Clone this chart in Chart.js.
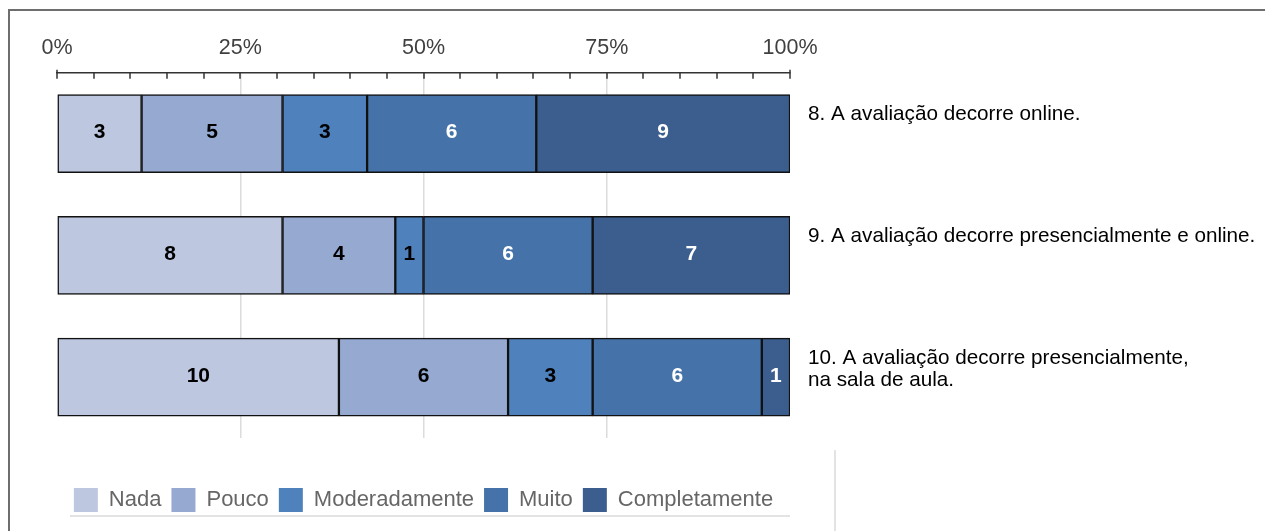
<!DOCTYPE html>
<html>
<head>
<meta charset="utf-8">
<script src="https://cdn.jsdelivr.net/npm/chart.js@4"></script>
<style>
  html, body { margin: 0; padding: 0; background: #fff; }
  #wrap { position: relative; width: 1265px; height: 531px; overflow: hidden; }
  #frame { position: absolute; left: 8px; top: 9px; right: -5px; bottom: -5px;
           border-top: 2px solid #6e6e6e; border-left: 2px solid #6e6e6e; }
  canvas { position: absolute; left: 0; top: 0; }
</style>
</head>
<body>
<div id="wrap">
  <div id="frame"></div>
  <canvas id="chart" width="1265" height="531"></canvas>
</div>
<script>
// questions (one bar each), multi-line labels as arrays
const questions = [
  ['8. A avaliação decorre online.'],
  ['9. A avaliação decorre presencialmente e online.'],
  ['10. A avaliação decorre presencialmente,', 'na sala de aula.']
];
const levels = ['Nada', 'Pouco', 'Moderadamente', 'Muito', 'Completamente'];

// answer counts per level, in question order
const nada          = [3, 8, 10];
const pouco         = [5, 4, 6];
const moderadamente = [3, 1, 3];
const muito         = [6, 6, 6];
const completamente = [9, 7, 1];

const axisLabels = [0, 25, 50, 75, 100];

const colors = ['#BDC8E0', '#95A9D1', '#4F81BD', '#4573A9', '#3B5E8E'];
const valueColors = ['#000', '#000', '#000', '#fff', '#fff'];

const counts = [nada, pouco, moderadamente, muito, completamente];
const totals = questions.map((q, i) => counts.reduce((s, c) => s + c[i], 0));

const FONT = '"Liberation Sans", Arial, sans-serif';
Chart.defaults.font.family = FONT;

// value labels, tick marks below the top axis, question texts on the right
const extras = {
  id: 'extras',
  afterDatasetsDraw(chart) {
    const ctx = chart.ctx;
    const x = chart.scales.x;
    const area = chart.chartArea;
    ctx.save();

    ctx.font = 'bold 21px ' + FONT;
    ctx.textAlign = 'center';
    ctx.textBaseline = 'middle';
    chart.data.datasets.forEach((ds, d) => {
      chart.getDatasetMeta(d).data.forEach((bar, i) => {
        ctx.fillStyle = valueColors[d];
        ctx.fillText(counts[d][i], (bar.x + bar.base) / 2, bar.y - 1);
      });
    });

    ctx.strokeStyle = '#333';
    ctx.lineWidth = 1.5;
    for (let v = 0; v <= 100; v += 5) {
      const px = Math.round(x.getPixelForValue(v));
      ctx.beginPath();
      ctx.moveTo(px, area.top - (v % 100 === 0 ? 3 : 0));
      ctx.lineTo(px, area.top + 6);
      ctx.stroke();
    }

    ctx.font = '20.7px ' + FONT;
    ctx.fillStyle = '#000';
    ctx.textAlign = 'left';
    const meta = chart.getDatasetMeta(0);
    questions.forEach((lines, i) => {
      const bar = meta.data[i];
      const top = bar.y - bar.height / 2;
      lines.forEach((t, k) => ctx.fillText(t, area.right + 18, top + 20 + k * 22));
    });

    // thin rules around the legend
    ctx.strokeStyle = '#e3e3e3';
    ctx.lineWidth = 2;
    ctx.beginPath();
    ctx.moveTo(70, 516); ctx.lineTo(790, 516);
    ctx.moveTo(835, 450); ctx.lineTo(835, 531);
    ctx.stroke();
    ctx.restore();
  }
};

new Chart(document.getElementById('chart').getContext('2d'), {
  type: 'bar',
  data: {
    labels: questions,
    datasets: levels.map((name, d) => ({
      label: name,
      data: counts[d].map((c, i) => c / totals[i] * 100),
      backgroundColor: colors[d],
      borderColor: '#111',
      borderWidth: 1.5,
      borderSkipped: false,
      barThickness: 78
    }))
  },
  options: {
    indexAxis: 'y',
    responsive: false,
    animation: false,
    layout: { padding: { left: 57, right: 475, top: 23, bottom: 9 } },
    scales: {
      x: {
        position: 'top',
        stacked: true,
        min: 0,
        max: 100,
        grid: {
          drawTicks: false,
          color: c => [25, 50, 75].includes(c.tick && c.tick.value) ? '#dcdcdc' : 'rgba(0,0,0,0)',
          lineWidth: 1.5
        },
        border: { display: true, color: '#333', width: 1.5 },
        ticks: {
          stepSize: 5,
          autoSkip: false,
          maxRotation: 0,
          padding: 12,
          color: '#404040',
          font: { size: 21.5 },
          callback: v => axisLabels.includes(v) ? v + '%' : ''
        }
      },
      gap: {
        type: 'linear',
        position: 'bottom',
        display: true,
        grid: { display: false },
        border: { display: false },
        ticks: { display: false },
        afterFit: s => { s.height = 40; }
      },
      y: { stacked: true, display: false }
    },
    plugins: {
      tooltip: { enabled: false },
      legend: {
        position: 'bottom',
        labels: {
          boxWidth: 24,
          boxHeight: 24,
          padding: 10,
          color: '#666',
          font: { size: 22 },
          generateLabels: chart =>
            Chart.defaults.plugins.legend.labels.generateLabels(chart).map(l => ({ ...l, lineWidth: 0 }))
        }
      }
    }
  },
  plugins: [extras]
});
</script>
</body>
</html>
